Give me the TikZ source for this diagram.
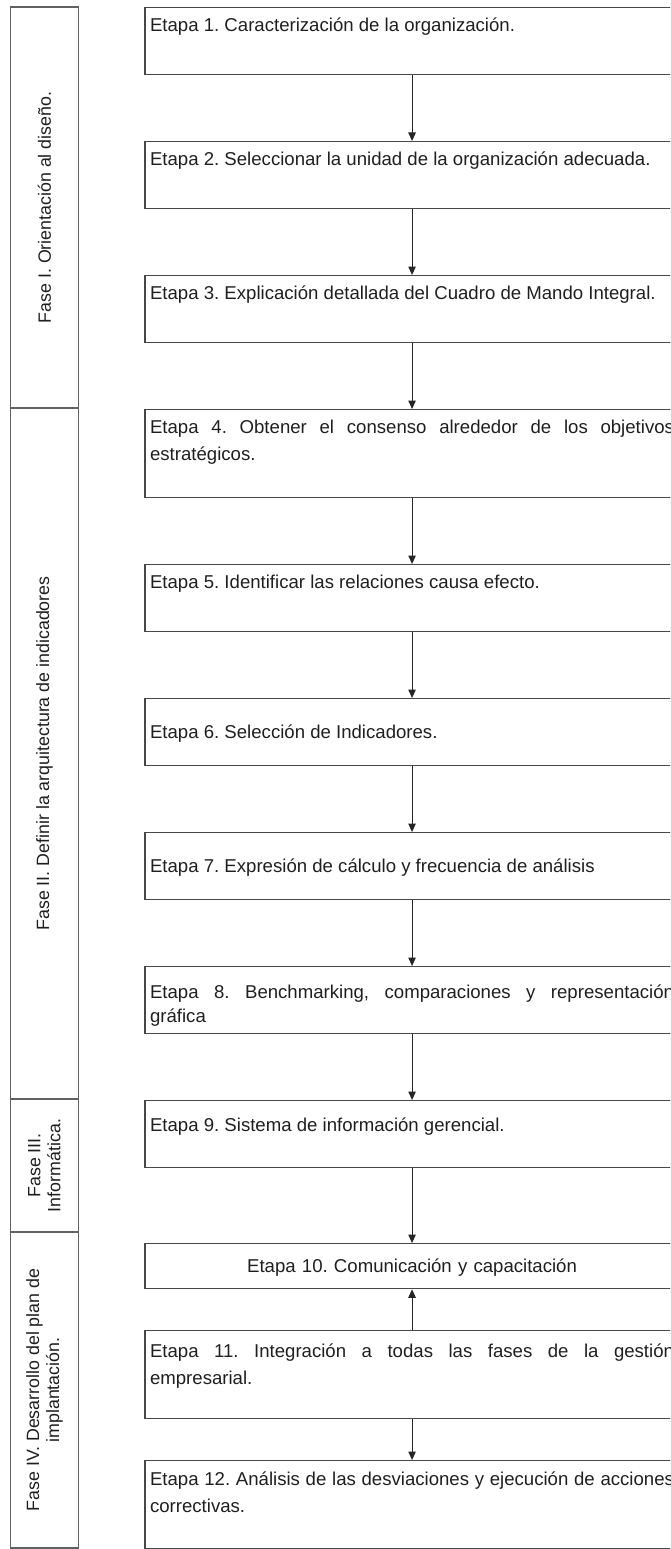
\documentclass[tikz,border=0pt]{standalone}
\usepackage{fontspec}
\setmainfont{Liberation Sans}
\usetikzlibrary{arrows.meta}
\newfontfamily\stagefam{Liberation Sans}
\newcommand\stagefont{\stagefam\fontsize{18.6pt}{27pt}\selectfont\frenchspacing\hyphenpenalty=10000\exhyphenpenalty=10000\tolerance=9999\relax}
\newcommand\stagefontb{\stagefam\fontsize{18.6pt}{24pt}\selectfont\frenchspacing\hyphenpenalty=10000\exhyphenpenalty=10000\tolerance=9999\relax}
\newcommand\phasefont{\stagefam\fontsize{17.8pt}{20pt}\selectfont\frenchspacing}
\definecolor{boxline}{gray}{0.28}
\definecolor{colline}{gray}{0.38}
\definecolor{txt}{gray}{0.12}
\begin{document}
\hyphenpenalty=10000
\frenchspacing
\begin{tikzpicture}[x=1pt,y=-1pt,
  stage/.style={draw=boxline, line width=1.3pt, anchor=north west,
    text width=524pt, inner xsep=5pt, inner ysep=0pt, align=justify,
    font=\stagefont, text=txt},
  phase/.style={draw=colline, line width=1.2pt, rotate=90, inner sep=0pt,
    minimum height=67.5pt, align=center, font=\phasefont, text=txt},
  arr/.style={draw=black!85, line width=1pt, -{Triangle[width=7.5pt,length=8.5pt]}}]
\useasboundingbox (0,0) rectangle (670,1549);
\clip (0,0) rectangle (670,1549);

% phase column
\node[phase, minimum width=401pt] (p1) at (44.45,207.5) {Fase I. Orientación al diseño.};
\node[phase, minimum width=691pt] (p2) at (44.45,753.5) {Fase II. Definir la arquitectura de indicadores};
\node[phase, minimum width=133pt] (p3) at (44.45,1165.5) {Fase III.\\Informática.};
\node[phase, minimum width=316pt] (p4) at (44.45,1390) {Fase IV. Desarrollo del plan de\\implantación.};

% stages
\node[stage, text height=24pt, text depth=43pt] (b1) at (144.4,7) {Etapa 1. Caracterización de la organización.};
\node[stage, text height=24pt, text depth=43pt] (b2) at (144.4,141) {Etapa 2. Seleccionar la unidad de la organización adecuada.};
\node[stage, text height=24pt, text depth=43pt] (b3) at (144.4,275) {Etapa 3. Explicación detallada del Cuadro de Mando Integral.};
\node[stage, text height=24pt, text depth=64pt] (b4) at (144.4,409) {Etapa 4. Obtener el consenso alrededor de los objetivos\linebreak estratégicos.};
\node[stage, text height=24pt, text depth=43pt] (b5) at (144.4,564) {Etapa 5. Identificar las relaciones causa efecto.};
\node[stage, text height=40pt, text depth=27pt] (b6) at (144.4,698) {Etapa 6. Selección de Indicadores.};
\node[stage, text height=40pt, text depth=27pt] (b7) at (144.4,832) {Etapa 7. Expresión de cálculo y frecuencia de análisis};
\node[stage, font=\stagefontb, text height=32pt, text depth=35pt] (b8) at (144.4,966) {Etapa 8. Benchmarking, comparaciones y representación\linebreak gráfica};
\node[stage, text height=31pt, text depth=36pt] (b9) at (144.4,1100) {Etapa 9. Sistema de información gerencial.};
\node[stage, align=center, text height=29pt, text depth=16pt] (b10) at (144.4,1243) {Etapa 10. Comunicación y capacitación};
\node[stage, text height=27pt, text depth=61pt] (b11) at (144.4,1330) {Etapa 11. Integración a todas las fases de la gestión\linebreak empresarial.};
\node[stage, text height=25pt, text depth=63pt] (b12) at (144.4,1460) {Etapa 12. Análisis de las desviaciones y ejecución de acciones\linebreak correctivas.};

% connectors
\draw[arr] (b1.south) -- (b2.north);
\draw[arr] (b2.south) -- (b3.north);
\draw[arr] (b3.south) -- (b4.north);
\draw[arr] (b4.south) -- (b5.north);
\draw[arr] (b5.south) -- (b6.north);
\draw[arr] (b6.south) -- (b7.north);
\draw[arr] (b7.south) -- (b8.north);
\draw[arr] (b8.south) -- (b9.north);
\draw[arr] (b9.south) -- (b10.north);
\draw[arr] (b11.north) -- (b10.south);
\draw[arr] (b11.south) -- (b12.north);
\end{tikzpicture}
\end{document}
